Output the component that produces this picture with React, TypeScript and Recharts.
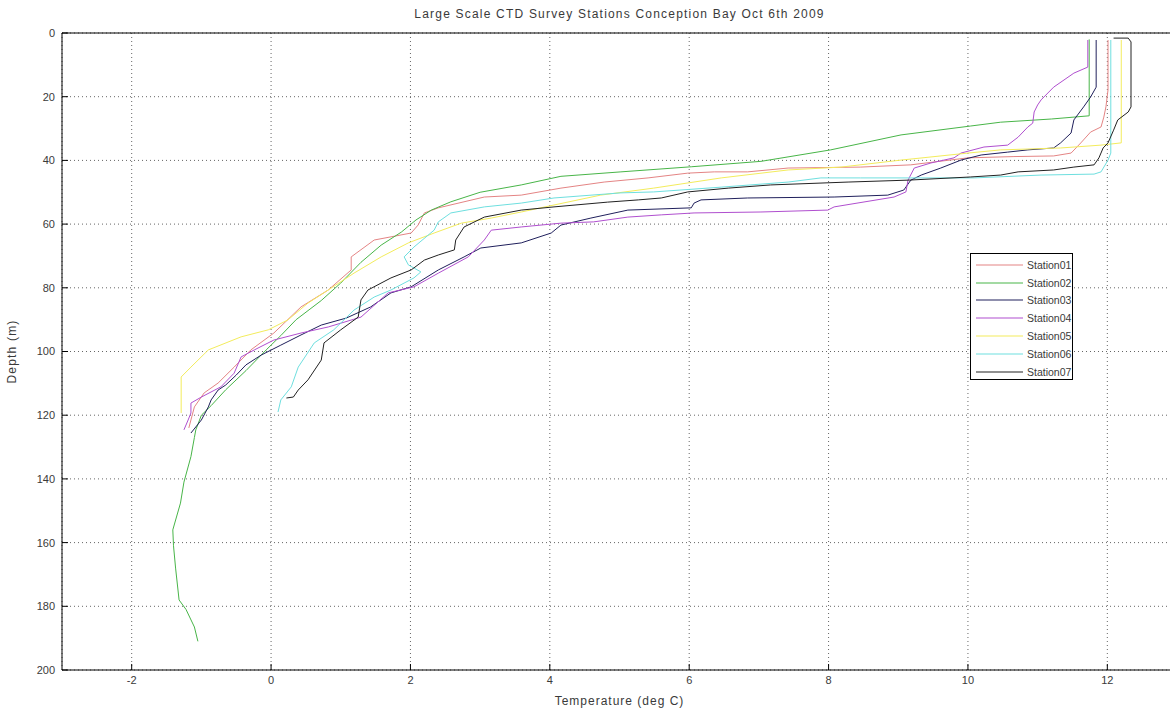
import React from 'react';
import {
  ScatterChart,
  Scatter,
  XAxis,
  YAxis,
  CartesianGrid,
  Legend,
  ReferenceLine,
} from 'recharts';

// CTD profiles: [temperature (deg C), depth (m)], ordered from surface downward
const station01: [number, number][] = [
  [12.01, 2.2], [12.01, 17.9], [11.98, 23.2], [11.95, 26.4], [11.91, 29.5], [11.76, 31.1],
  [11.62, 34.5], [11.48, 37.7], [11.23, 38.6], [10.66, 38.8], [10.0, 39.2], [9.18, 41.4],
  [8.46, 42.1], [7.42, 42.4], [6.84, 43.6], [6.36, 43.6], [5.98, 44.0], [5.41, 45.5],
  [4.78, 46.8], [4.16, 48.7], [3.59, 50.9], [3.06, 51.5], [2.4, 54.9], [2.2, 56.5],
  [2.11, 60.3], [2.01, 62.8], [1.48, 65.0], [1.15, 70.3], [1.15, 74.4], [0.82, 80.7],
  [0.43, 86.0], [0.04, 94.2], [-0.29, 99.5], [-0.53, 104.9], [-0.76, 109.9], [-0.96, 113.0],
  [-1.1, 117.4], [-1.15, 121.5], [-1.18, 124.0],
];

const station02: [number, number][] = [
  [11.74, 2.0], [11.74, 26.0], [11.2, 27.0], [10.47, 28.0], [10.04, 29.2], [9.04, 32.0],
  [8.03, 36.7], [7.03, 40.3], [6.03, 42.0], [5.02, 43.6], [4.16, 45.0], [3.59, 47.7],
  [3.0, 50.0], [2.58, 53.0], [2.3, 55.6], [2.08, 58.7], [1.87, 62.5], [1.58, 66.6],
  [1.29, 72.0], [1.0, 78.5], [0.72, 84.0], [0.36, 90.0], [0.14, 95.0], [-0.07, 99.5],
  [-0.36, 106.0], [-0.65, 112.0], [-0.86, 117.0], [-1.0, 120.0], [-1.08, 124.6], [-1.1, 127.0],
  [-1.15, 133.0], [-1.25, 141.0], [-1.3, 147.6], [-1.41, 156.0], [-1.4, 161.0], [-1.37, 168.0],
  [-1.32, 178.0], [-1.22, 181.0], [-1.1, 186.5], [-1.05, 191.0],
];

const station03: [number, number][] = [
  [11.84, 2.2], [11.84, 17.0], [11.76, 20.1], [11.66, 23.2], [11.52, 27.3], [11.48, 31.4],
  [11.33, 34.5], [11.23, 36.1], [10.86, 36.7], [10.57, 37.4], [10.19, 38.3], [9.9, 39.9],
  [9.61, 42.4], [9.33, 44.6], [9.18, 46.2], [9.08, 49.3], [8.85, 50.9], [8.08, 51.5],
  [6.84, 51.8], [6.17, 52.4], [6.07, 53.4], [6.03, 54.9], [5.12, 55.6], [4.59, 58.1],
  [4.16, 60.3], [4.02, 62.8], [3.59, 65.9], [3.01, 67.5], [2.77, 70.3], [2.4, 74.4],
  [2.01, 79.7], [1.72, 81.6], [1.43, 86.0], [1.08, 89.5], [0.72, 91.7], [0.43, 94.8],
  [0.14, 98.0], [-0.14, 101.1], [-0.36, 104.2], [-0.5, 107.4], [-0.65, 110.5], [-0.76, 112.1],
  [-0.86, 115.2], [-0.9, 117.4], [-1.0, 121.5], [-1.15, 125.6],
];

const station04: [number, number][] = [
  [11.72, 2.2], [11.72, 10.7], [11.52, 12.6], [11.23, 17.0], [11.05, 21.0], [11.0, 22.6],
  [10.95, 24.8], [10.93, 28.3], [10.86, 29.5], [10.72, 32.7], [10.57, 35.2], [10.23, 35.8],
  [9.9, 37.7], [9.8, 39.2], [9.47, 40.8], [9.23, 42.4], [9.14, 46.2], [9.11, 49.9],
  [8.94, 51.5], [8.08, 54.6], [7.99, 55.6], [7.03, 56.2], [6.07, 56.5], [5.6, 57.1],
  [5.12, 57.8], [4.63, 59.3], [4.16, 59.7], [3.59, 60.9], [3.16, 61.9], [3.06, 65.0],
  [2.83, 70.3], [2.4, 75.4], [2.05, 79.7], [1.68, 81.6], [1.29, 89.2], [0.82, 92.3],
  [0.43, 94.2], [0.04, 96.4], [-0.24, 99.5], [-0.43, 101.7], [-0.53, 106.8], [-0.72, 111.1],
  [-1.0, 114.3], [-1.15, 116.2], [-1.15, 119.3], [-1.19, 121.5], [-1.25, 124.6],
];

const station05: [number, number][] = [
  [12.2, 2.2], [12.2, 34.5], [11.91, 35.2], [11.33, 36.1], [10.47, 36.7], [10.0, 37.7],
  [9.04, 39.9], [8.18, 42.1], [7.42, 43.0], [6.46, 45.5], [5.49, 48.7], [4.73, 50.9],
  [4.06, 54.0], [3.59, 56.2], [3.16, 58.1], [2.73, 59.7], [2.34, 62.8], [1.97, 65.9],
  [1.58, 70.3], [1.19, 75.4], [0.82, 80.7], [0.53, 84.8], [0.24, 90.1], [-0.04, 93.2],
  [-0.43, 95.4], [-0.9, 99.5], [-1.15, 104.9], [-1.29, 108.0], [-1.29, 119.3],
];

const station06: [number, number][] = [
  [12.05, 2.2], [12.05, 37.7], [12.01, 39.9], [11.91, 43.6], [11.81, 44.3], [11.05, 44.6],
  [10.09, 45.5], [9.04, 45.5], [8.46, 45.5], [7.89, 45.5], [7.42, 46.8], [6.46, 48.4],
  [5.49, 49.9], [5.02, 50.2], [4.06, 51.8], [3.59, 53.4], [3.06, 54.6], [2.58, 56.5],
  [2.4, 59.3], [2.34, 61.9], [2.05, 67.2], [1.91, 70.3], [1.97, 72.8], [2.15, 75.0],
  [2.05, 76.9], [1.72, 80.7], [1.48, 82.9], [1.19, 87.0], [0.9, 93.2], [0.62, 97.3],
  [0.39, 104.9], [0.29, 111.1], [0.14, 115.2], [0.1, 119.0],
];

const station07: [number, number][] = [
  [12.09, 1.6], [12.3, 1.6], [12.34, 2.8], [12.34, 23.2], [12.3, 24.8], [12.15, 27.3],
  [12.09, 30.5], [12.01, 34.5], [11.94, 36.1], [11.88, 39.2], [11.81, 41.4], [11.52, 42.1],
  [11.23, 43.0], [10.72, 43.6], [10.47, 44.6], [10.04, 45.2], [9.14, 46.2], [8.28, 46.8],
  [7.17, 47.7], [6.56, 48.7], [5.98, 49.9], [5.6, 51.8], [5.27, 52.4], [4.83, 53.1],
  [4.06, 54.6], [3.59, 55.6], [3.06, 57.8], [2.77, 60.9], [2.65, 65.0], [2.63, 68.1],
  [2.4, 69.7], [2.2, 71.3], [2.01, 74.4], [1.72, 76.9], [1.39, 80.7], [1.29, 83.8],
  [1.25, 89.2], [1.0, 93.2], [0.76, 97.3], [0.72, 102.7], [0.53, 108.9], [0.39, 112.1],
  [0.32, 114.3], [0.22, 114.6],
];

const stationNames = ['Station01', 'Station02', 'Station03', 'Station04', 'Station05', 'Station06', 'Station07'];
const stationColors = ['#e48484', '#48b548', '#20205c', '#b04fcf', '#f3ec5c', '#6edfdf', '#222222'];
const temperatureTicks = [-2, 0, 2, 4, 6, 8, 10, 12];
const depthTicks = [0, 20, 40, 60, 80, 100, 120, 140, 160, 180, 200];

const chartTitle = 'Large Scale CTD Survey Stations Conception Bay Oct 6th 2009';
const xLabel = 'Temperature (deg C)';
const yLabel = 'Depth (m)';

const profiles = [station01, station02, station03, station04, station05, station06, station07];
const series = profiles.map((profile, i) => ({
  name: stationNames[i],
  color: stationColors[i],
  points: profile.map(([t, d]) => ({ t, d })),
}));

const FONT = '"Liberation Sans", Arial, Helvetica, sans-serif';
const TEXT = '#3a3a3a';

// axis ticks drawn inside the plot box, labels outside
const XTick = (props: any) => {
  const { x, y, payload } = props;
  return (
    <g>
      <line x1={x} x2={x} y1={y - 6} y2={y - 12} stroke="#000" />
      <text x={x} y={y} dy="0.71em" textAnchor="middle" fontSize={11} fill={TEXT} fontFamily={FONT}>
        {payload.value}
      </text>
    </g>
  );
};

const YTick = (props: any) => {
  const { x, y, payload } = props;
  return (
    <g>
      <line x1={x + 7} x2={x + 13} y1={y} y2={y} stroke="#000" />
      <text x={x} y={y} dy="0.355em" textAnchor="end" fontSize={11} fill={TEXT} fontFamily={FONT}>
        {payload.value}
      </text>
    </g>
  );
};

const NoMarker = () => <g />;

const LegendBox = () => (
  <div
    style={{
      width: 103,
      height: 127,
      boxSizing: 'border-box',
      border: '1px solid #000',
      background: '#fff',
      paddingTop: 2,
      fontFamily: FONT,
      fontSize: 10.5,
      color: TEXT,
    }}
  >
    {series.map((s) => (
      <div key={s.name} style={{ display: 'flex', alignItems: 'center', height: 17.8 }}>
        <svg width={56} height={6} style={{ flex: 'none' }}>
          <line x1={5} x2={52} y1={3} y2={3} stroke={s.color} strokeWidth={1.2} />
        </svg>
        <span style={{ lineHeight: '12px' }}>{s.name}</span>
      </div>
    ))}
  </div>
);

export default function App() {
  return (
    <div
      style={{
        position: 'fixed',
        left: 0,
        top: 0,
        width: 1170,
        height: 711,
        overflow: 'hidden',
        background: '#fff',
        fontFamily: FONT,
      }}
    >
      <div
        style={{
          position: 'absolute',
          top: 8,
          left: 0,
          width: 1239,
          textAlign: 'center',
          fontSize: 12,
          lineHeight: '13px',
          letterSpacing: '1.2px',
          color: TEXT,
        }}
      >
        {chartTitle}
      </div>
      <ScatterChart width={1187} height={711} margin={{ top: 33, right: 10, bottom: 1, left: 0 }}>
        <CartesianGrid stroke="#666" strokeDasharray="1 3" />
        <XAxis
          type="number"
          dataKey="t"
          domain={[-3, 13]}
          ticks={temperatureTicks}
          allowDataOverflow
          tickSize={0}
          tickMargin={6}
          tick={<XTick />}
          axisLine={{ stroke: '#000' }}
          height={40}
          label={{
            value: xLabel,
            position: 'insideBottom',
            offset: 5,
            fontSize: 12,
            fill: TEXT,
            style: { letterSpacing: '1px' },
          }}
        />
        <YAxis
          type="number"
          dataKey="d"
          domain={[0, 200]}
          reversed
          ticks={depthTicks}
          allowDataOverflow
          tickSize={0}
          tickMargin={7}
          tick={<YTick />}
          width={62}
          axisLine={{ stroke: '#000' }}
          label={{
            value: yLabel,
            angle: -90,
            position: 'insideLeft',
            offset: 12,
            fontSize: 12,
            fill: TEXT,
            style: { textAnchor: 'middle', letterSpacing: '1.2px' },
          }}
        />
        <ReferenceLine y={0} stroke="#000" />
        {series.map((s) => (
          <Scatter
            key={s.name}
            name={s.name}
            data={s.points}
            fill={s.color}
            line={{ stroke: s.color, strokeWidth: 1 }}
            shape={NoMarker}
            isAnimationActive={false}
          />
        ))}
        <Legend
          layout="vertical"
          align="center"
          verticalAlign="middle"
          content={<LegendBox />}
          wrapperStyle={{ left: 970, top: 253, width: 103, height: 127 }}
        />
      </ScatterChart>
    </div>
  );
}
